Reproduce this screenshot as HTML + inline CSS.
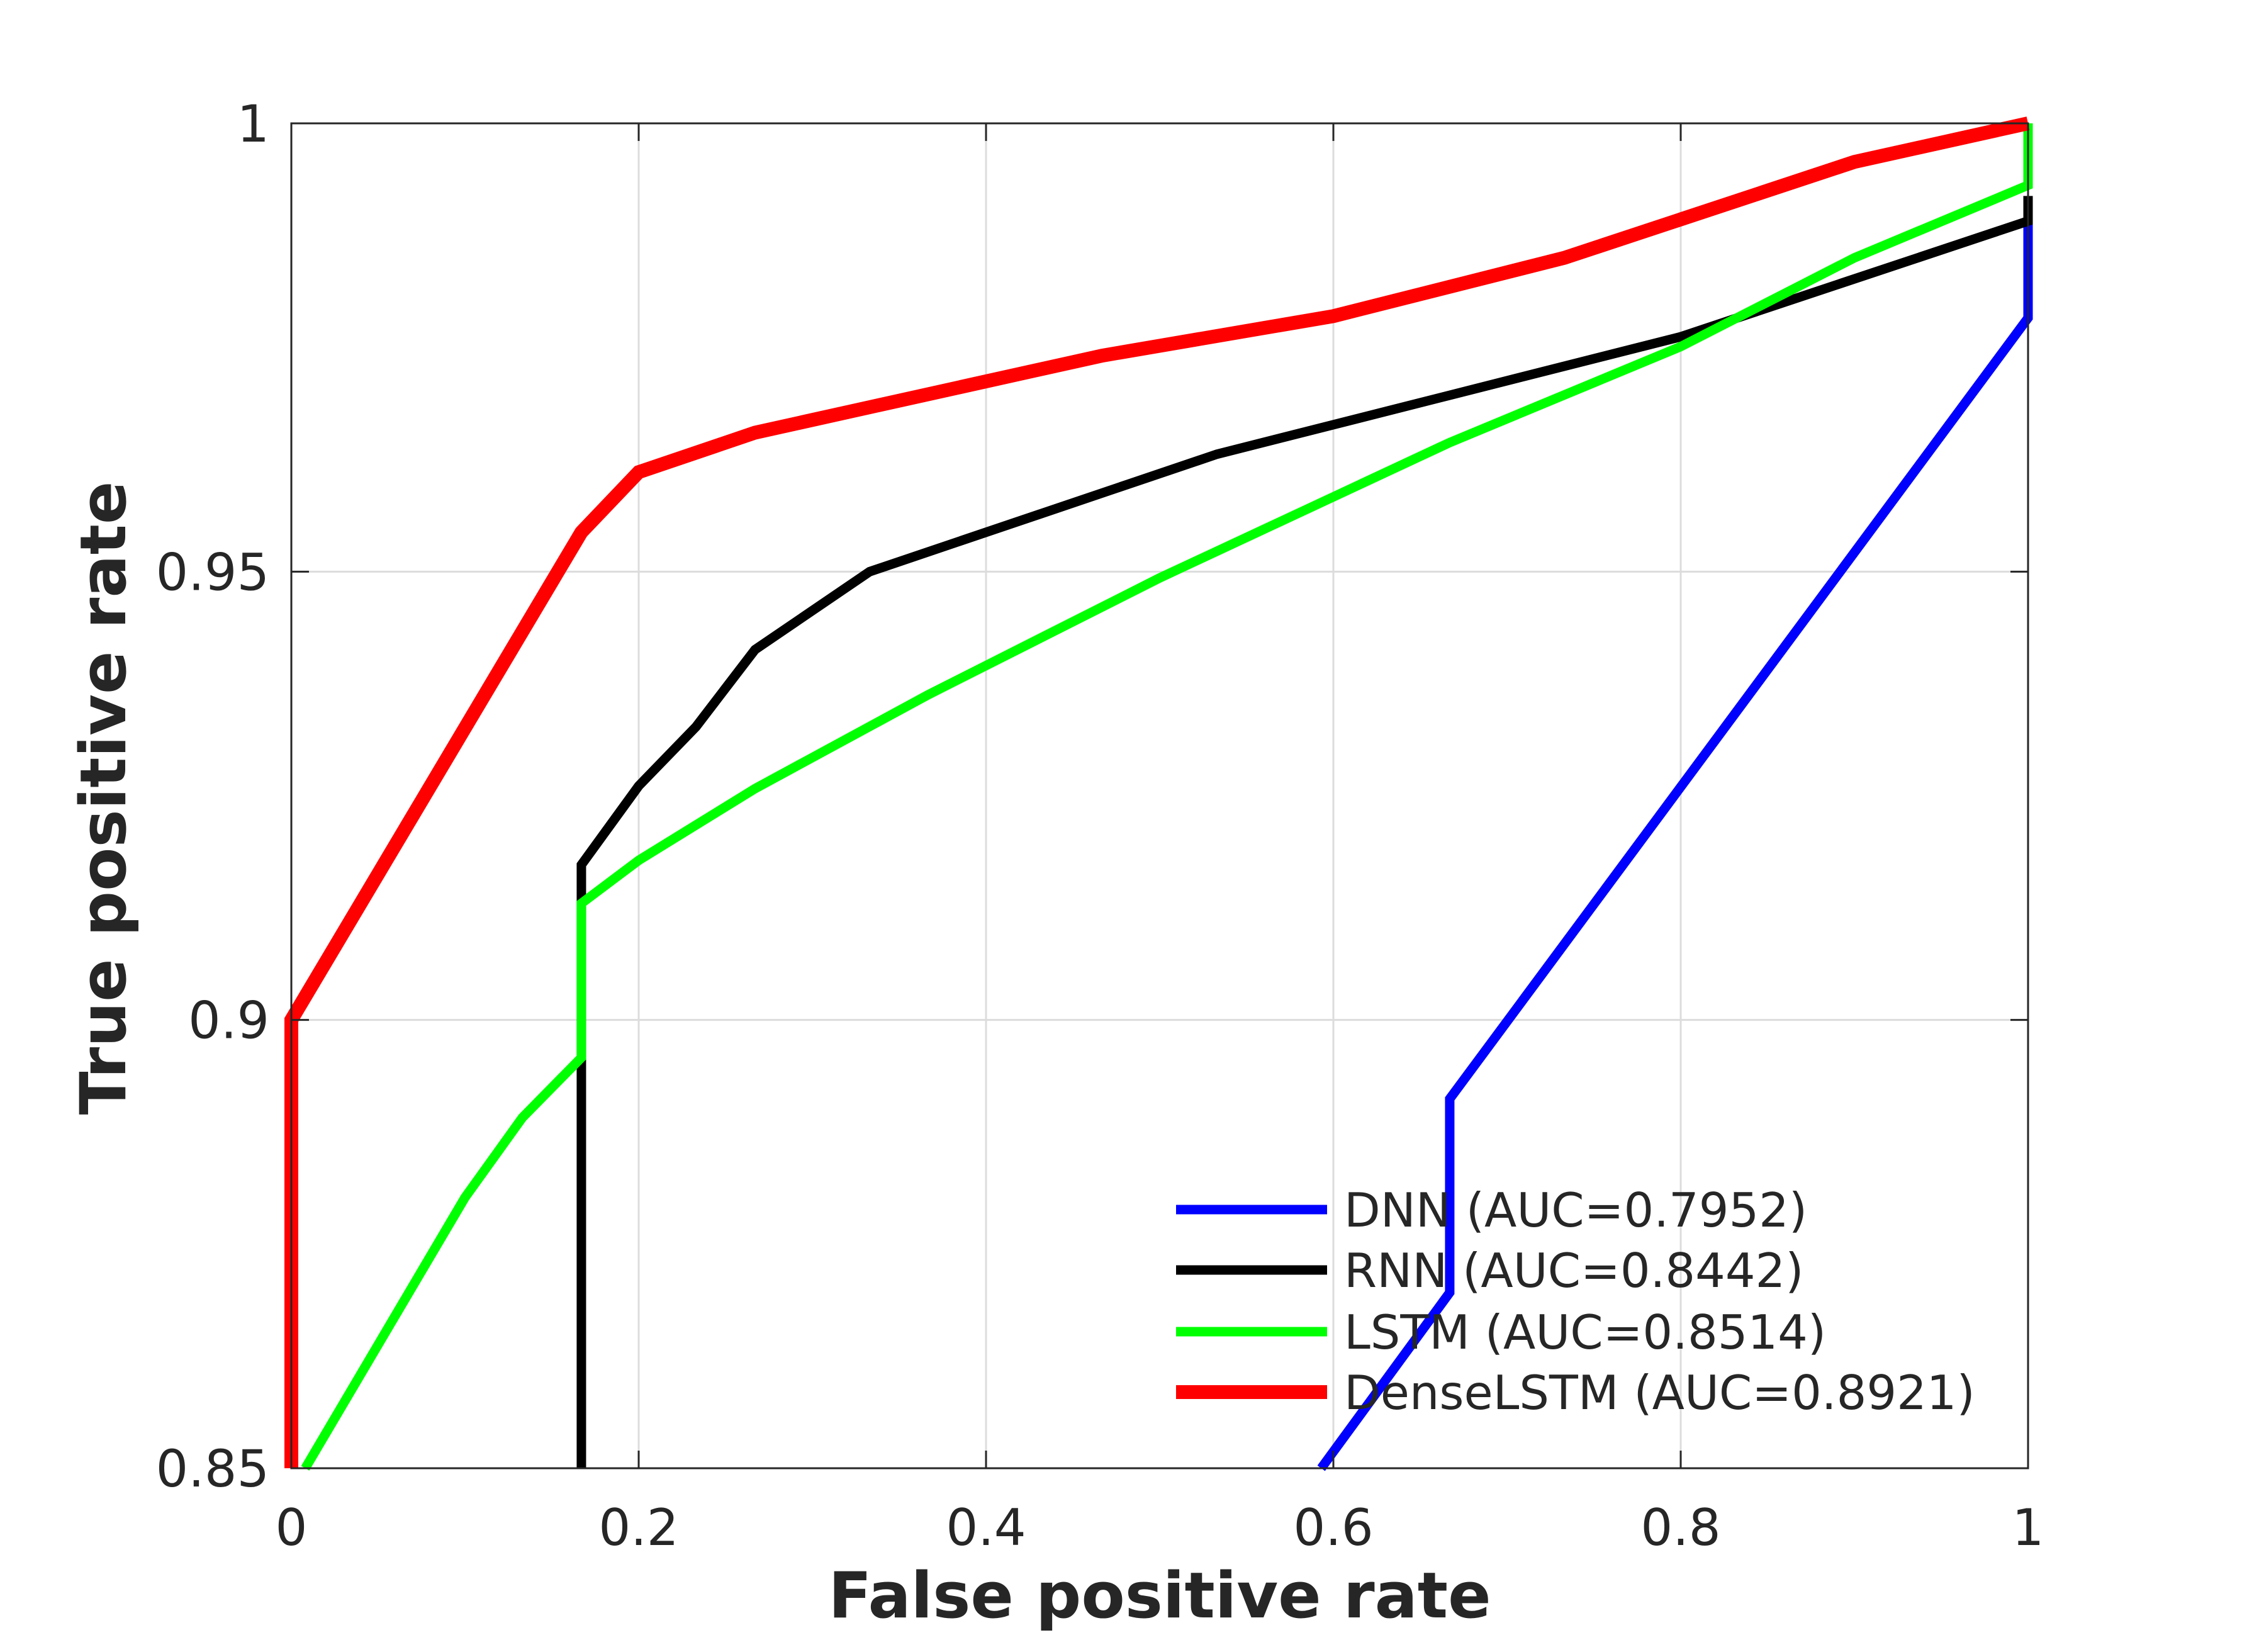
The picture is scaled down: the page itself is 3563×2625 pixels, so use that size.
<!DOCTYPE html>
<html><head><meta charset="utf-8"><style>
html,body{margin:0;padding:0;background:#fff}
svg{display:block}
text{font-family:"DejaVu Sans","Liberation Sans",sans-serif;fill:#262626}
</style></head><body>
<svg id="chart" width="3563" height="2625" viewBox="0 0 3563 2625" xmlns="http://www.w3.org/2000/svg">
<g id="grid"></g>
<g id="series"></g>
<rect x="463" y="196" width="2760" height="2137" fill="none" stroke="#262626" stroke-width="3"/>
<g id="ticks"></g>
<text x="1843" y="2570" font-size="101" font-weight="bold" text-anchor="middle">False positive rate</text>
<text x="0" y="0" font-size="101" font-weight="bold" text-anchor="middle" transform="translate(199,1268) rotate(-90)">True positive rate</text>
<g id="legend"></g>
</svg>
<script>
const xTicks=[0,0.2,0.4,0.6,0.8,1];
const xTickLabels=["0","0.2","0.4","0.6","0.8","1"];
const yTicks=[0.85,0.9,0.95,1];
const yTickLabels=["0.85","0.9","0.95","1"];
const seriesNames=["DNN (AUC=0.7952)","RNN (AUC=0.8442)","LSTM (AUC=0.8514)","DenseLSTM (AUC=0.8921)"];
const dnnX=[0.593,0.667,0.667,1,1];
const dnnY=[0.85,0.8696,0.8912,0.9783,0.9891];
const rnnX=[0.167,0.167,0.2,0.233,0.267,0.333,0.533,0.8,1,1];
const rnnY=[0.85,0.9173,0.9261,0.9327,0.9413,0.95,0.9631,0.9762,0.9891,0.9919];
const lstmX=[0.008,0.1,0.133,0.167,0.167,0.2,0.267,0.367,0.5,0.667,0.8,0.9,1,1];
const lstmY=[0.85,0.8802,0.8891,0.8958,0.913,0.9178,0.9258,0.9363,0.9493,0.9644,0.9751,0.985,0.9931,1.0];
const denseX=[0,0,0.167,0.2,0.267,0.467,0.6,0.733,0.9,1];
const denseY=[0.85,0.9,0.9544,0.9611,0.9655,0.9741,0.9785,0.985,0.9957,1];

const L=463,R=3223,T=196,B=2333;
const sx=v=>L+(v-0)/(1-0)*(R-L);
const sy=v=>B-(v-0.85)/(1-0.85)*(B-T);
const NS="http://www.w3.org/2000/svg";
function mk(tag,parent,attrs){const e=document.createElementNS(NS,tag);for(const k in attrs)e.setAttribute(k,attrs[k]);parent.appendChild(e);return e;}
const grid=document.getElementById('grid'),ticks=document.getElementById('ticks'),ser=document.getElementById('series'),leg=document.getElementById('legend');
xTicks.forEach((v,i)=>{
  const gl=mk('line',grid,{x1:sx(v),x2:sx(v),y1:T,y2:B,stroke:'#dcdcdc','stroke-width':3});
  
  
  const t1=mk('line',ticks,{x1:sx(v),x2:sx(v),y1:B,y2:B-28,stroke:'#262626','stroke-width':3});
  
  
  const t2=mk('line',ticks,{x1:sx(v),x2:sx(v),y1:T,y2:T+28,stroke:'#262626','stroke-width':3});
  
  
  const tx=mk('text',ticks,{x:sx(v),y:2455,'font-size':80,'text-anchor':'middle'});
  tx.textContent=xTickLabels[i];
  
  
});
yTicks.forEach((v,i)=>{
  const gl=mk('line',grid,{x1:L,x2:R,y1:sy(v),y2:sy(v),stroke:'#dcdcdc','stroke-width':3});
  
  
  const t1=mk('line',ticks,{x1:L,x2:L+28,y1:sy(v),y2:sy(v),stroke:'#262626','stroke-width':3});
  
  
  const t2=mk('line',ticks,{x1:R,x2:R-28,y1:sy(v),y2:sy(v),stroke:'#262626','stroke-width':3});
  
  
  const tx=mk('text',ticks,{x:428,y:sy(v)+29,'font-size':81,'text-anchor':'end'});
  tx.textContent=yTickLabels[i];
  
  
});
const defs=[[dnnX,dnnY,'#0000ff',15,'dnn-line'],[rnnX,rnnY,'#000000',15,'rnn-line'],[lstmX,lstmY,'#00ff00',15,'lstm-line'],[denseX,denseY,'#ff0000',22,'denselstm-line']];
defs.forEach(([xs,ys,c,w,n])=>{
  const p=mk('polyline',ser,{points:xs.map((x,i)=>sx(x)+','+sy(ys[i])).join(' '),fill:'none',stroke:c,'stroke-width':w});
  
  
});
const rowY=[1922,2018,2116,2212];
defs.forEach((d,i)=>{
  const l=mk('line',leg,{x1:1869,x2:2109,y1:rowY[i],y2:rowY[i],stroke:d[2],'stroke-width':d[3]});
  
  
  const t=mk('text',leg,{x:2136,y:rowY[i]+27,'font-size':75,fill:'#000'});
  t.textContent=seriesNames[i];
  
  
});
</script>
</body></html>
